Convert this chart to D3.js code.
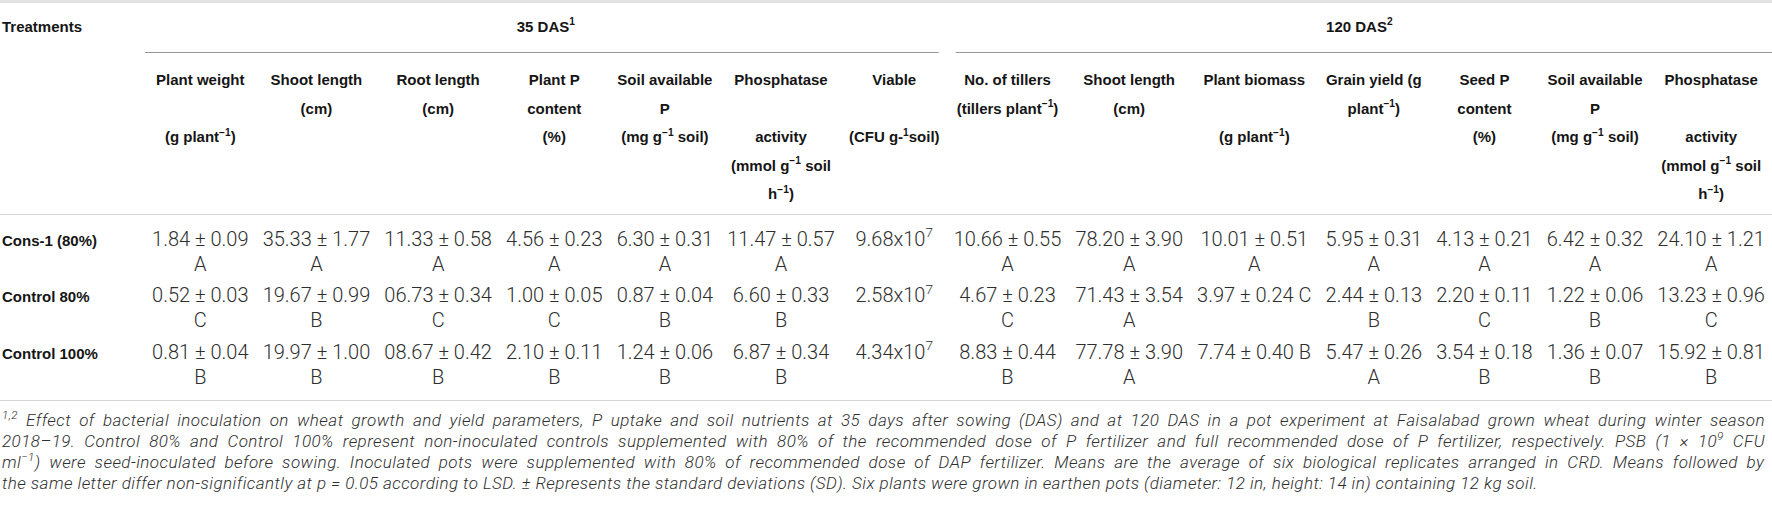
<!DOCTYPE html>
<html>
<head>
<meta charset="utf-8">
<script src="https://cdnjs.cloudflare.com/ajax/libs/d3/7.8.5/d3.min.js"></script>
<style>
  body { margin: 0; background: #fff; }
  svg { display: block; }
  .head { font-family: "Liberation Sans", Arial, sans-serif; font-weight: bold; font-size: 15px; fill: #151515; }
  .val { font-family: Roboto, "Liberation Sans", sans-serif; font-weight: 300; font-size: 20px; fill: #2e2e2e; }
  .note { font-family: Roboto, "Liberation Sans", sans-serif; font-weight: 300; font-style: italic; font-size: 17px; letter-spacing: 0.45px; fill: #2e2e2e; }
</style>
</head>
<body>
<div id="table"></div>
<script>
// ^{..} marks superscript, \n marks a line break inside a cell
const treatments = ['Cons-1 (80%)', 'Control 80%', 'Control 100%'];
const stages = ['35 DAS^{1}', '120 DAS^{2}'];

const heads35 = [
  ['Plant weight', '', '(g plant^{−1})'],
  ['Shoot length', '(cm)'],
  ['Root length', '(cm)'],
  ['Plant P', 'content', '(%)'],
  ['Soil available', 'P', '(mg g^{−1} soil)'],
  ['Phosphatase', '', 'activity', '(mmol g^{−1} soil', 'h^{−1})'],
  ['Viable', '', '(CFU g-^{1}soil)']
];
const heads120 = [
  ['No. of tillers', '(tillers plant^{−1})'],
  ['Shoot length', '(cm)'],
  ['Plant biomass', '', '(g plant^{−1})'],
  ['Grain yield (g', 'plant^{−1})'],
  ['Seed P', 'content', '(%)'],
  ['Soil available', 'P', '(mg g^{−1} soil)'],
  ['Phosphatase', '', 'activity', '(mmol g^{−1} soil', 'h^{−1})']
];

const cons1 = ['1.84 ± 0.09\nA', '35.33 ± 1.77\nA', '11.33 ± 0.58\nA', '4.56 ± 0.23\nA', '6.30 ± 0.31\nA', '11.47 ± 0.57\nA', '9.68x10^{7}',
  '10.66 ± 0.55\nA', '78.20 ± 3.90\nA', '10.01 ± 0.51\nA', '5.95 ± 0.31\nA', '4.13 ± 0.21\nA', '6.42 ± 0.32\nA', '24.10 ± 1.21\nA'];
const control80 = ['0.52 ± 0.03\nC', '19.67 ± 0.99\nB', '06.73 ± 0.34\nC', '1.00 ± 0.05\nC', '0.87 ± 0.04\nB', '6.60 ± 0.33\nB', '2.58x10^{7}',
  '4.67 ± 0.23\nC', '71.43 ± 3.54\nA', '3.97 ± 0.24 C', '2.44 ± 0.13\nB', '2.20 ± 0.11\nC', '1.22 ± 0.06\nB', '13.23 ± 0.96\nC'];
const control100 = ['0.81 ± 0.04\nB', '19.97 ± 1.00\nB', '08.67 ± 0.42\nB', '2.10 ± 0.11\nB', '1.24 ± 0.06\nB', '6.87 ± 0.34\nB', '4.34x10^{7}',
  '8.83 ± 0.44\nB', '77.78 ± 3.90\nA', '7.74 ± 0.40 B', '5.47 ± 0.26\nA', '3.54 ± 0.18\nB', '1.36 ± 0.07\nB', '15.92 ± 0.81\nB'];

const notes = [
  '^{1,2} Effect of bacterial inoculation on wheat growth and yield parameters, P uptake and soil nutrients at 35 days after sowing (DAS) and at 120 DAS in a pot experiment at Faisalabad grown wheat during winter season',
  '2018–19. Control 80% and Control 100% represent non-inoculated controls supplemented with 80% of the recommended dose of P fertilizer and full recommended dose of P fertilizer, respectively. PSB (1 × 10^{9} CFU',
  'ml^{−1}) were seed-inoculated before sowing. Inoculated pots were supplemented with 80% of recommended dose of DAP fertilizer. Means are the average of six biological replicates arranged in CRD. Means followed by',
  'the same letter differ non-significantly at p = 0.05 according to LSD. ± Represents the standard deviations (SD). Six plants were grown in earthen pots (diameter: 12 in, height: 14 in) containing 12 kg soil.'
];

const w = 1772, h = 507;
const headFs = 15, valFs = 20, noteFs = 17;
const labelCol = 145;      // width of the Treatments column
const cellPad = 14;        // spare room per column on top of its widest line
const stageY = 31.5, stageRule = 52;
const headY = 85, headLine = 28.5;
const headRule = 214, bottomRule = 400;
const valDrop = 23.5, valLine = 24.8;
const noteY = 426, noteLine = 21;

const rows = [cons1, control80, control100];
const columns = heads35.map(lines => ({ stage: 0, lines }))
  .concat(heads120.map(lines => ({ stage: 1, lines })));

const svg = d3.select('#table').append('svg')
  .attr('width', w)
  .attr('height', h);

function rich(text, str, fs) {
  const parts = str.split(/(\^\{[^}]*\})/).filter(s => s.length);
  let raised = false;
  parts.forEach(p => {
    const sup = p.startsWith('^{');
    const t = text.append('tspan').text(sup ? p.slice(2, -1) : p);
    if (sup) {
      t.attr('dy', -fs * 0.42).attr('font-size', fs * 0.68);
      raised = true;
    } else if (raised) {
      t.attr('dy', fs * 0.42);
      raised = false;
    }
  });
  return text;
}

function textWidth(str, cls, fs) {
  const t = rich(svg.append('text').attr('class', cls), str, fs);
  const wd = t.node().getComputedTextLength();
  t.remove();
  return wd;
}

// column widths follow the widest line in each column
columns.forEach((c, j) => {
  const hw = c.lines.map(s => textWidth(s, 'head', headFs));
  const vw = rows.flatMap(r => r[j].split('\n')).map(s => textWidth(s, 'val', valFs));
  c.size = d3.max(hw.concat(vw)) + cellPad;
});
const x = d3.scaleLinear()
  .domain([0, d3.sum(columns, c => c.size)])
  .range([labelCol, w]);
let acc = 0;
columns.forEach(c => {
  c.x0 = x(acc);
  acc += c.size;
  c.x1 = x(acc);
  c.cx = (c.x0 + c.x1) / 2;
});

const y = d3.scaleBand()
  .domain(treatments)
  .range([headRule, bottomRule])
  .paddingOuter(0.146);

// top band and rules
svg.append('rect')
  .attr('x', 0).attr('y', 0)
  .attr('width', w).attr('height', 3)
  .attr('fill', '#e2e2e2');

svg.selectAll('line.rule')
  .data([headRule, bottomRule])
  .join('line')
  .attr('class', 'rule')
  .attr('x1', 0).attr('x2', w)
  .attr('y1', d => d + 0.5).attr('y2', d => d + 0.5)
  .attr('stroke', '#d4d4d4');

// stage headers
const stageSpans = stages.map((s, i) => {
  const cols = columns.filter(c => c.stage === i);
  return { label: s, x0: cols[0].x0, x1: cols[cols.length - 1].x1, i };
});
svg.selectAll('line.stage')
  .data(stageSpans)
  .join('line')
  .attr('class', 'stage')
  .attr('x1', d => d.x0 + (d.i > 0 ? 9 : 0))
  .attr('x2', d => d.x1 - (d.i < stages.length - 1 ? 8 : 0))
  .attr('y1', stageRule + 0.5).attr('y2', stageRule + 0.5)
  .attr('stroke', '#969696');

svg.selectAll('text.stage')
  .data(stageSpans)
  .join('text')
  .attr('class', 'head stage')
  .attr('x', d => (d.x0 + d.x1) / 2)
  .attr('y', stageY)
  .attr('text-anchor', 'middle')
  .each(function(d) { rich(d3.select(this), d.label, headFs); });

svg.append('text')
  .attr('class', 'head')
  .attr('x', 2).attr('y', stageY)
  .text('Treatments');

// column headers
const headG = svg.selectAll('g.colhead')
  .data(columns)
  .join('g')
  .attr('class', 'colhead');
headG.selectAll('text')
  .data(d => d.lines.map((s, k) => ({ s, k, cx: d.cx })))
  .join('text')
  .attr('class', 'head')
  .attr('x', d => d.cx)
  .attr('y', d => headY + d.k * headLine)
  .attr('text-anchor', 'middle')
  .each(function(d) { rich(d3.select(this), d.s, headFs); });

// body
svg.selectAll('text.treat')
  .data(treatments)
  .join('text')
  .attr('class', 'head treat')
  .attr('x', 2)
  .attr('y', d => y(d) + valDrop)
  .text(d => d);

const cells = rows.flatMap((r, i) => r.map((v, j) => ({ v, t: treatments[i], col: columns[j] })));
const cellG = svg.selectAll('g.cell')
  .data(cells)
  .join('g')
  .attr('class', 'cell');
cellG.selectAll('text')
  .data(d => d.v.split('\n').map((s, k) => ({ s, k, cx: d.col.cx, top: y(d.t) })))
  .join('text')
  .attr('class', 'val')
  .attr('x', d => d.cx)
  .attr('y', d => d.top + valDrop + d.k * valLine)
  .attr('text-anchor', 'middle')
  .each(function(d) { rich(d3.select(this), d.s, valFs); });

// footnote, justified except the last line
const noteX0 = 2, noteX1 = 1765;
svg.selectAll('text.note')
  .data(notes)
  .join('text')
  .attr('class', 'note')
  .attr('x', noteX0)
  .attr('y', (d, i) => noteY + i * noteLine)
  .each(function(d, i) {
    const t = rich(d3.select(this), d, noteFs);
    if (i < notes.length - 1) {
      const gaps = (d.match(/ /g) || []).length;
      const extra = (noteX1 - noteX0) - t.node().getBBox().width;
      t.style('word-spacing', (extra / gaps) + 'px');
    }
  });
</script>
</body>
</html>
